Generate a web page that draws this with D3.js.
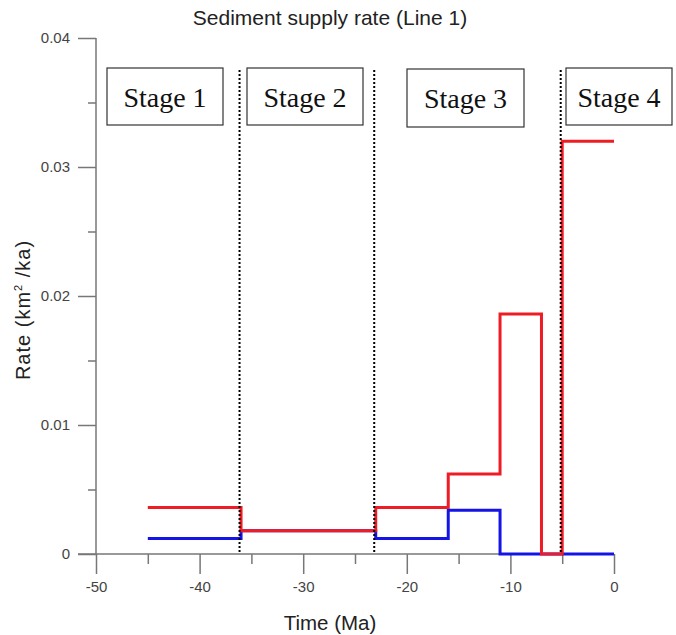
<!DOCTYPE html>
<html>
<head>
<meta charset="utf-8">
<script src="https://cdn.jsdelivr.net/npm/d3@7"></script>
<style>
  html, body { margin: 0; padding: 0; background: #fff; }
  svg { display: block; }
</style>
</head>
<body>
<svg id="chart" width="676" height="635"></svg>
<script>
// Sediment supply rate through time (step series)
const redTimes  = [-45, -36, -23, -16, -11, -7, -5, 0];
const redRates  = [0.0036, 0.0018, 0.0036, 0.0062, 0.0186, 0, 0.032, 0.032];
const blueTimes = [-45, -36, -23, -16, -11, 0];
const blueRates = [0.0012, 0.0018, 0.0012, 0.0034, 0, 0];

const stageBounds = [-36, -23, -5];
const stageLabels = ["Stage 1", "Stage 2", "Stage 3", "Stage 4"];

const xMajorTicks = [-50, -40, -30, -20, -10, 0];
const xMinorTicks = [-45, -35, -25, -15, -5];
const yMajorTicks = [0, 0.01, 0.02, 0.03, 0.04];
const yMinorTicks = [0.005, 0.015, 0.025, 0.035];

const svg = d3.select("#chart");
const sans = "'Liberation Sans', Arial, sans-serif";
const serif = "'Liberation Serif', 'Times New Roman', serif";
const axisColor = "#777";

const x = d3.scaleLinear().domain([-50, 0]).range([96, 614]);
const y = d3.scaleLinear().domain([0, 0.04]).range([554, 38]);

// Axes
svg.append("g").attr("transform", `translate(${x(-50)},0)`)
  .call(d3.axisLeft(y).tickValues(yMajorTicks).tickSize(18).tickPadding(8)
    .tickFormat(d => d === 0 ? "0" : d3.format(".2f")(d)));
svg.append("g").attr("transform", `translate(${x(-50)},0)`)
  .call(d3.axisLeft(y).tickValues(yMinorTicks).tickSize(8).tickFormat(""));

svg.append("g").attr("transform", `translate(0,${y(0)})`)
  .call(d3.axisBottom(x).tickValues(xMajorTicks).tickSize(20).tickPadding(7)
    .tickFormat(d => String(d)));
svg.append("g").attr("transform", `translate(0,${y(0)})`)
  .call(d3.axisBottom(x).tickValues(xMinorTicks).tickSize(10).tickFormat(""));

svg.selectAll(".domain").remove();
svg.selectAll(".tick line").attr("stroke", axisColor).attr("stroke-width", 1.5);
svg.selectAll(".tick text").attr("fill", "#444").style("font-family", sans).style("font-size", "15px");

// Axis lines
svg.append("line").attr("x1", x(-50)).attr("x2", x(-50)).attr("y1", y(0.04)).attr("y2", y(0))
  .attr("stroke", axisColor).attr("stroke-width", 1.5);
svg.append("line").attr("x1", x(-50) - 18).attr("x2", x(0)).attr("y1", y(0)).attr("y2", y(0))
  .attr("stroke", axisColor).attr("stroke-width", 1.5);

// Series
const line = d3.line().x(d => x(d[0])).y(d => y(d[1])).curve(d3.curveStepAfter);
svg.append("path").datum(d3.zip(blueTimes, blueRates)).attr("d", line)
  .attr("fill", "none").attr("stroke", "#1414e6").attr("stroke-width", 3);
svg.append("path").datum(d3.zip(redTimes, redRates)).attr("d", line)
  .attr("fill", "none").attr("stroke", "#ee1c24").attr("stroke-width", 3);

// Stage boundaries
svg.selectAll(".bound").data(stageBounds).enter().append("line")
  .attr("x1", d => x(d) - 1.5).attr("x2", d => x(d) - 1.5).attr("y1", 70).attr("y2", y(0))
  .attr("stroke", "#000").attr("stroke-width", 2).attr("stroke-dasharray", "2,2");

// Stage boxes
const boxes = [[107, 223], [247, 363], [407, 524], [566, 672]];
const bg = svg.selectAll(".stage").data(stageLabels).enter().append("g");
bg.append("rect")
  .attr("x", (d, i) => boxes[i][0]).attr("width", (d, i) => boxes[i][1] - boxes[i][0])
  .attr("y", (d, i) => i === 2 ? 69 : 68).attr("height", (d, i) => i === 2 ? 58 : 57)
  .attr("fill", "#fff").attr("stroke", "#333").attr("stroke-width", 1.2);
bg.append("text")
  .attr("x", (d, i) => (boxes[i][0] + boxes[i][1]) / 2)
  .attr("y", (d, i) => i === 2 ? 108 : 107)
  .attr("text-anchor", "middle").style("font-family", serif).style("font-size", "28px")
  .attr("fill", "#111").text(d => d);

// Titles
svg.append("text").attr("x", 330).attr("y", 25).attr("text-anchor", "middle")
  .style("font-family", sans).style("font-size", "21px").attr("fill", "#222")
  .text("Sediment supply rate (Line 1)");
svg.append("text").attr("x", 330).attr("y", 630).attr("text-anchor", "middle")
  .style("font-family", sans).style("font-size", "20.5px").attr("fill", "#222")
  .text("Time (Ma)");
const yl = svg.append("text").attr("transform", "translate(30,310) rotate(-90)")
  .attr("text-anchor", "middle").style("font-family", sans).style("font-size", "20px")
  .style("letter-spacing", "1px").attr("fill", "#222");
yl.append("tspan").text("Rate  (km");
yl.append("tspan").attr("dy", -8).style("font-size", "11px").text("2");
yl.append("tspan").attr("dy", 8).text(" /ka)");
</script>
</body>
</html>
